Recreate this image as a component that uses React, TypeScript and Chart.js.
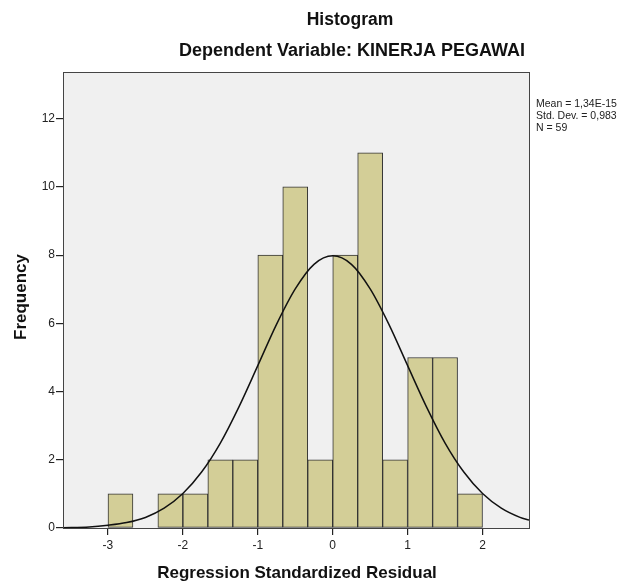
import React, { useEffect, useRef } from "react";
import { Chart, registerables } from "chart.js";

Chart.register(...registerables);

// Histogram bins (width 1/3), centers and counts
const binCenters = [-2.833, -2.5, -2.167, -1.833, -1.5, -1.167, -0.833, -0.5, -0.167, 0.167, 0.5, 0.833, 1.167, 1.5, 1.833];
const frequencies = [1, 0, 1, 1, 2, 2, 8, 10, 2, 8, 11, 2, 5, 5, 1];

// Normal curve
const curveX = [-3.6, -3.25, -3, -2.75, -2.5, -2.25, -2, -1.75, -1.5, -1.25, -1, -0.75, -0.5, -0.25, 0, 0.25, 0.5, 0.75, 1, 1.25, 1.5, 1.75, 2, 2.25, 2.5, 2.62];
const curveY = [0.01, 0.03, 0.08, 0.16, 0.31, 0.58, 1.01, 1.64, 2.49, 3.56, 4.76, 5.97, 7.01, 7.73, 7.98, 7.73, 7.01, 5.97, 4.76, 3.56, 2.49, 1.64, 1.01, 0.58, 0.31, 0.23];

const titleText = "Histogram";
const subtitleText = "Dependent Variable: KINERJA PEGAWAI";
const xTitle = "Regression Standardized Residual";
const yTitle = "Frequency";
const statsLines = ["Mean = 1,34E-15", "Std. Dev. = 0,983", "N = 59"];

const FONT = '"Liberation Sans", Arial, Helvetica, sans-serif';

const decorPlugin = {
  id: "decor",
  beforeDatasetsDraw(chart: any) {
    const { ctx, chartArea: a } = chart;
    ctx.save();
    ctx.fillStyle = "#f0f0f0";
    ctx.fillRect(a.left, a.top, a.right - a.left, a.bottom - a.top);
    ctx.restore();
  },
  afterDraw(chart: any) {
    const { ctx, chartArea: a } = chart;
    ctx.save();
    ctx.strokeStyle = "#444";
    ctx.lineWidth = 1;
    ctx.strokeRect(Math.round(a.left) + 0.5, Math.round(a.top) + 0.5, Math.round(a.right - a.left), Math.round(a.bottom - a.top));

    ctx.fillStyle = "#111";
    ctx.textAlign = "center";
    ctx.textBaseline = "middle";
    ctx.font = `bold 17.5px ${FONT}`;
    ctx.fillText(titleText, 350, 20);
    ctx.font = `bold 18px ${FONT}`;
    ctx.fillText(subtitleText, 352, 51);

    ctx.font = `bold 17px ${FONT}`;
    ctx.fillText(xTitle, 297, 573);

    ctx.save();
    ctx.translate(21, 297);
    ctx.rotate(-Math.PI / 2);
    ctx.fillText(yTitle, 0, 0);
    ctx.restore();

    ctx.font = `10.5px ${FONT}`;
    ctx.textAlign = "left";
    ctx.fillStyle = "#222";
    statsLines.forEach((t, i) => ctx.fillText(t, 536, 104 + i * 12));
    ctx.restore();
  },
};

export default function App() {
  const ref = useRef<HTMLCanvasElement | null>(null);

  useEffect(() => {
    if (!ref.current) return;
    const chart = new Chart(ref.current, {
      type: "bar",
      data: {
        datasets: [
          {
            type: "line",
            data: curveX.map((x, i) => ({ x, y: curveY[i] })),
            borderColor: "#111",
            borderWidth: 1.5,
            pointRadius: 0,
            fill: false,
            cubicInterpolationMode: "monotone",
            order: 1,
          } as any,
          {
            type: "bar",
            data: binCenters.map((x, i) => ({ x, y: frequencies[i] })),
            backgroundColor: "#d3ce97",
            borderColor: "#333",
            borderWidth: 1,
            borderSkipped: false,
            barPercentage: 1,
            categoryPercentage: 1,
            grouped: false,
            order: 2,
          } as any,
        ],
      },
      options: {
        responsive: false,
        animation: false,
        layout: { padding: { left: 0, top: 72, right: 103, bottom: 0 } },
        plugins: { legend: { display: false }, tooltip: { enabled: false }, title: { display: false } },
        scales: {
          x: {
            type: "linear",
            min: -3.6,
            max: 2.62,
            offset: false,
            afterFit: (s: any) => { s.height = 58; },
            ticks: {
              stepSize: 1,
              includeBounds: false,
              color: "#222",
              padding: 3,
              font: { family: FONT, size: 12 },
            },
            grid: { display: true, offset: false, drawOnChartArea: false, drawTicks: true, tickLength: 7, color: "#222", lineWidth: 1.2 },
            border: { display: true, color: "#444" },
          },
          y: {
            type: "linear",
            min: 0,
            max: 13.37,
            afterFit: (s: any) => { s.width = 63; },
            ticks: {
              stepSize: 2,
              includeBounds: false,
              color: "#222",
              padding: 1,
              font: { family: FONT, size: 12 },
            },
            grid: { display: true, drawOnChartArea: false, drawTicks: true, tickLength: 7, color: "#222", lineWidth: 1.2 },
            border: { display: true, color: "#444" },
          },
        },
      } as any,
      plugins: [decorPlugin],
    });
    return () => chart.destroy();
  }, []);

  return (
    <div style={{ position: "fixed", left: 0, top: 0, width: 632, height: 586, background: "#fff" }}>
      <canvas ref={ref} width={632} height={586} />
    </div>
  );
}
